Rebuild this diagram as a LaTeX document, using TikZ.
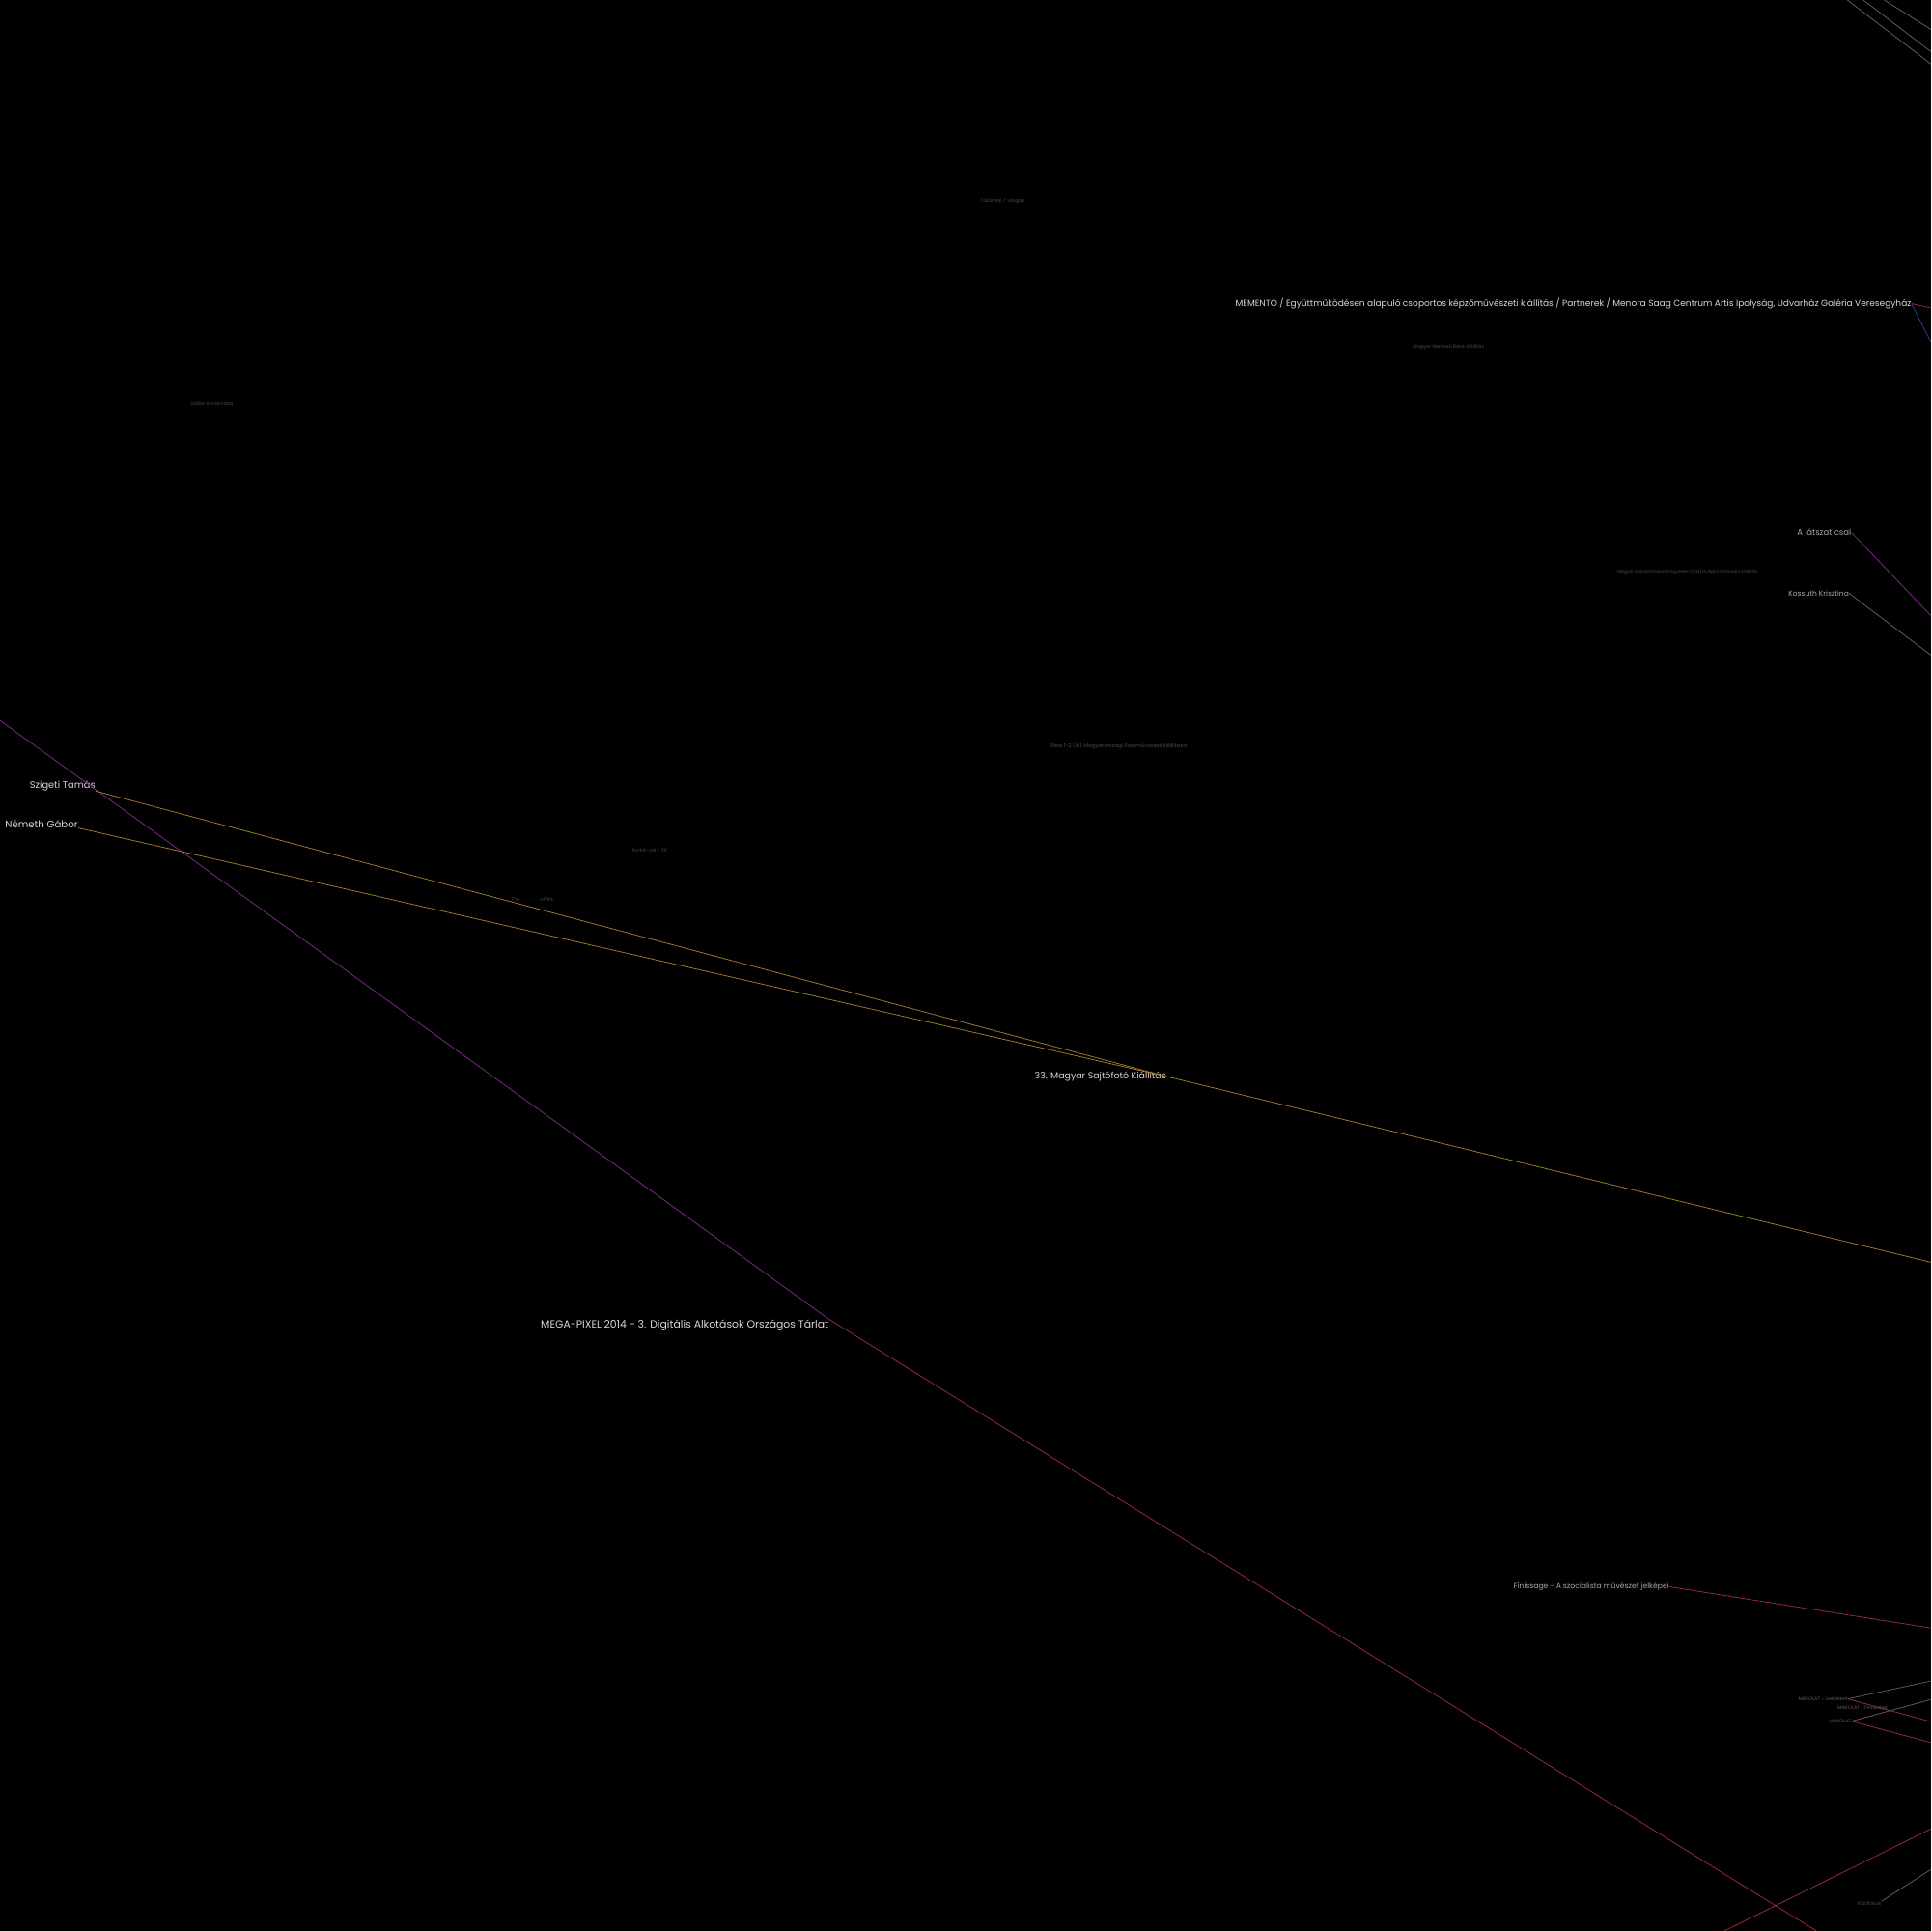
\documentclass[tikz,border=0pt]{standalone}
\usepackage{fontspec}
\setmainfont{Poppins}
\definecolor{bright}{HTML}{D8D8D8}
\definecolor{mid}{HTML}{A8A8A8}
\definecolor{dim}{HTML}{4A4A4A}
\definecolor{purp}{HTML}{7A2C86}
\definecolor{redl}{HTML}{9A2C3C}
\definecolor{orng}{HTML}{A87A2C}
\definecolor{bluel}{HTML}{3A3A9A}
\definecolor{greyl}{HTML}{6A5A6A}
\definecolor{greenl}{HTML}{4A6A3A}
\begin{document}
\begin{tikzpicture}[x=1pt,y=-1pt,
  lbl/.style={inner sep=0pt,anchor=base west,text=bright},
  midlbl/.style={inner sep=0pt,anchor=base west,text=mid},
  dimlbl/.style={inner sep=0pt,anchor=base west,text=dim,font=\fontsize{3.9}{4}\selectfont},
  edge/.style={line width=0.6pt}]
\fill[black] (0,0) rectangle (1568,1568);
\useasboundingbox (0,0) rectangle (1568,1568);

% off-screen ends
\coordinate (ul) at (0,585);
\coordinate (br) at (1475,1568);
\coordinate (sr) at (1568,1025);
\coordinate (b2) at (1400,1568);
\coordinate (b2e) at (1568,1485);

% labels
\node[dimlbl] (vizs) at (796,164) {Tükörkép / vizsgák};
\node[dimlbl] (mnb) at (1147,283) {Magyar Nemzeti Bank kiállítás};
\node[dimlbl] (szoke) at (155,329) {Szőke Annamária};
\node[dimlbl,font=\fontsize{3.5}{4}\selectfont] (mke) at (1313,465) {Magyar Képzőművészeti Egyetem 2013/14 diplomamunka kiállítás};
\node[dimlbl,font=\fontsize{4.3}{5}\selectfont] (resz) at (853,607) {Rész 1-2 (M) Magyarországi Fotóművészek kiállítása};
\node[dimlbl] (portre) at (513,692) {Portré-val - '14};
\node[dimlbl] (life) at (415,732) {The {\color{bluel}. . . . . . .} of life};
\node[dimlbl] (kiall) at (1508,1547) {Kiállítások};

\node[lbl,font=\fontsize{7.1}{8}\selectfont] (memento) at (1003,249) {MEMENTO / Együttműködésen alapuló csoportos képzőművészeti kiállítás / Partnerek / Menora Saag Centrum Artis Ipolyság, Udvarház Galéria Veresegyház};
\node[midlbl,font=\fontsize{6.7}{7}\selectfont] (latszat) at (1459,435) {A látszat csal};
\node[midlbl,font=\fontsize{5.9}{6}\selectfont] (kossuth) at (1452,484) {Kossuth Krisztina};
\node[lbl,font=\fontsize{7.7}{8}\selectfont] (szigeti) at (24,640) {Szigeti Tamás};
\node[lbl,font=\fontsize{8}{9}\selectfont] (nemeth) at (4,672) {Németh Gábor};
\node[lbl,font=\fontsize{7.4}{8}\selectfont] (sajto) at (840,876) {33. Magyar Sajtófotó Kiállítás};
\node[lbl,font=\fontsize{8.5}{9}\selectfont] (mega) at (439,1078) {MEGA-PIXEL 2014 - 3. Digitális Alkotások Országos Tárlat};
\node[midlbl,font=\fontsize{6}{7}\selectfont] (finis) at (1229,1290) {Finissage - A szocialista művészet jelképei};
\node[dimlbl,text=greyl] (mak1) at (1460,1381) {MAKOLAT - Lesketeni};
\node[dimlbl,text=greyl] (mak2) at (1492,1388) {MAKOLAT - Finissage};
\node[dimlbl,text=greyl] (mak3) at (1485,1399) {MAKOLAT};

% connectors
\draw[edge,purp] (mega.north east) -- (ul);
\draw[edge,redl] (mega.north east) -- (br);
\draw[edge,orng] (szigeti.south east) -- (sajto.east);
\draw[edge,orng] (nemeth.south east) -- (sajto.east);
\draw[edge,orng] (sajto.east) -- (sr);
\draw[edge,redl] (memento.east) -- (1568,250);
\draw[edge,bluel] (memento.east) -- (1568,278);
\draw[edge,purp] (latszat.east) -- (1568,500);
\draw[edge,greyl] (kossuth.east) -- (1568,532);
\draw[edge,redl] (finis.east) -- (1568,1322);
\draw[edge,greenl] (mak1.east) -- (1568,1365);
\draw[edge,redl] (mak1.east) -- (1568,1398);
\draw[edge,greyl] (mak3.east) -- (1568,1380);
\draw[edge,redl] (mak3.east) -- (1568,1415);
\draw[edge,redl] (b2) -- (b2e);
\draw[edge,greyl] (kiall.north east) -- (1568,1518);
\draw[edge,greyl] (1500,0) -- (1568,52);
\draw[edge,greyl] (1513,0) -- (1568,42);
\draw[edge,greyl] (1530,0) -- (1568,24);
\end{tikzpicture}
\end{document}
